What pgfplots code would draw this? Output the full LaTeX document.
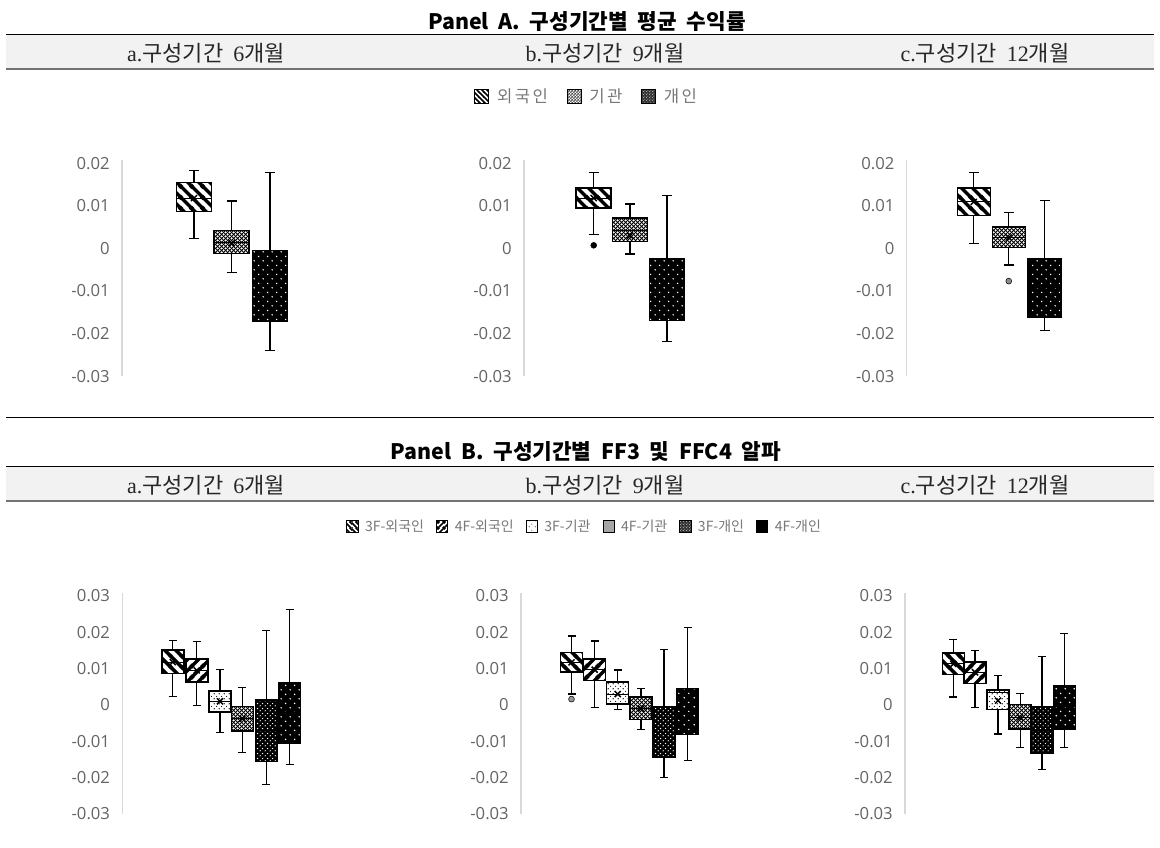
\documentclass[border=0pt]{standalone}
\usepackage{fontspec}
\usepackage{pgfplots}
\pgfplotsset{compat=1.18}
\usetikzlibrary{patterns}
\setmainfont{Noto Sans CJK KR}
\newfontfamily\tickfont{Open Sans}
\newfontfamily\lserif{Liberation Serif}
\definecolor{bandgray}{RGB}{242,242,242}
\definecolor{tickgray}{RGB}{100,100,100}
\definecolor{leggray}{RGB}{120,120,120}
\definecolor{axgray}{RGB}{217,217,217}

% ---- fixed-size patterns ----
\pgfdeclarepatternformonly{stripesdown}{\pgfqpoint{0pt}{0pt}}{\pgfqpoint{8pt}{8pt}}{\pgfqpoint{8pt}{8pt}}{%
  \pgfsetlinewidth{2.6pt}%
  \pgfpathmoveto{\pgfqpoint{-1pt}{9pt}}\pgfpathlineto{\pgfqpoint{9pt}{-1pt}}%
  \pgfpathmoveto{\pgfqpoint{-1pt}{1pt}}\pgfpathlineto{\pgfqpoint{1pt}{-1pt}}%
  \pgfpathmoveto{\pgfqpoint{7pt}{9pt}}\pgfpathlineto{\pgfqpoint{9pt}{7pt}}%
  \pgfusepath{stroke}}
\pgfdeclarepatternformonly{stripesup}{\pgfqpoint{0pt}{0pt}}{\pgfqpoint{8pt}{8pt}}{\pgfqpoint{8pt}{8pt}}{%
  \pgfsetlinewidth{2.6pt}%
  \pgfpathmoveto{\pgfqpoint{-1pt}{-1pt}}\pgfpathlineto{\pgfqpoint{9pt}{9pt}}%
  \pgfpathmoveto{\pgfqpoint{-1pt}{7pt}}\pgfpathlineto{\pgfqpoint{1pt}{9pt}}%
  \pgfpathmoveto{\pgfqpoint{7pt}{-1pt}}\pgfpathlineto{\pgfqpoint{9pt}{1pt}}%
  \pgfusepath{stroke}}
\pgfdeclarepatternformonly{stripesdownS}{\pgfqpoint{0pt}{0pt}}{\pgfqpoint{4pt}{4pt}}{\pgfqpoint{4pt}{4pt}}{%
  \pgfsetlinewidth{1.3pt}%
  \pgfpathmoveto{\pgfqpoint{-1pt}{5pt}}\pgfpathlineto{\pgfqpoint{5pt}{-1pt}}%
  \pgfpathmoveto{\pgfqpoint{-1pt}{1pt}}\pgfpathlineto{\pgfqpoint{1pt}{-1pt}}%
  \pgfpathmoveto{\pgfqpoint{3pt}{5pt}}\pgfpathlineto{\pgfqpoint{5pt}{3pt}}%
  \pgfusepath{stroke}}
\pgfdeclarepatternformonly{stripesupS}{\pgfqpoint{0pt}{0pt}}{\pgfqpoint{4pt}{4pt}}{\pgfqpoint{4pt}{4pt}}{%
  \pgfsetlinewidth{1.3pt}%
  \pgfpathmoveto{\pgfqpoint{-1pt}{-1pt}}\pgfpathlineto{\pgfqpoint{5pt}{5pt}}%
  \pgfpathmoveto{\pgfqpoint{-1pt}{3pt}}\pgfpathlineto{\pgfqpoint{1pt}{5pt}}%
  \pgfpathmoveto{\pgfqpoint{3pt}{-1pt}}\pgfpathlineto{\pgfqpoint{5pt}{1pt}}%
  \pgfusepath{stroke}}
\pgfdeclarepatternformonly{diamondhatch}{\pgfqpoint{0pt}{0pt}}{\pgfqpoint{3pt}{3pt}}{\pgfqpoint{3pt}{3pt}}{%
  \pgfsetlinewidth{0.8pt}%
  \pgfpathmoveto{\pgfqpoint{-0.5pt}{-0.5pt}}\pgfpathlineto{\pgfqpoint{3.5pt}{3.5pt}}%
  \pgfpathmoveto{\pgfqpoint{-0.5pt}{3.5pt}}\pgfpathlineto{\pgfqpoint{3.5pt}{-0.5pt}}%
  \pgfusepath{stroke}}
\pgfdeclarepatternformonly{diamondhatchS}{\pgfqpoint{0pt}{0pt}}{\pgfqpoint{2pt}{2pt}}{\pgfqpoint{2pt}{2pt}}{%
  \pgfsetlinewidth{0.5pt}%
  \pgfpathmoveto{\pgfqpoint{-0.5pt}{-0.5pt}}\pgfpathlineto{\pgfqpoint{2.5pt}{2.5pt}}%
  \pgfpathmoveto{\pgfqpoint{-0.5pt}{2.5pt}}\pgfpathlineto{\pgfqpoint{2.5pt}{-0.5pt}}%
  \pgfusepath{stroke}}
\pgfdeclarepatternformonly{dotslight}{\pgfqpoint{0pt}{0pt}}{\pgfqpoint{4pt}{4pt}}{\pgfqpoint{4pt}{4pt}}{%
  \pgfpathcircle{\pgfqpoint{1pt}{1pt}}{0.6pt}%
  \pgfpathcircle{\pgfqpoint{3pt}{3pt}}{0.45pt}%
  \pgfusepath{fill}}
\pgfdeclarepatternformonly{dotssparse}{\pgfqpoint{0pt}{0pt}}{\pgfqpoint{7pt}{7pt}}{\pgfqpoint{7pt}{7pt}}{%
  \pgfpathcircle{\pgfqpoint{1.75pt}{1.75pt}}{0.65pt}%
  \pgfpathcircle{\pgfqpoint{5.25pt}{5.25pt}}{0.65pt}%
  \pgfusepath{fill}}
\pgfdeclarepatternformonly{dotsdense}{\pgfqpoint{0pt}{0pt}}{\pgfqpoint{3.6pt}{3.6pt}}{\pgfqpoint{3.6pt}{3.6pt}}{%
  \pgfpathcircle{\pgfqpoint{0.9pt}{0.9pt}}{0.5pt}%
  \pgfpathcircle{\pgfqpoint{2.7pt}{2.7pt}}{0.5pt}%
  \pgfusepath{fill}}
\pgfdeclarepatternformonly{dotsdenseS}{\pgfqpoint{0pt}{0pt}}{\pgfqpoint{2pt}{2pt}}{\pgfqpoint{2pt}{2pt}}{%
  \pgfpathcircle{\pgfqpoint{0.5pt}{0.5pt}}{0.35pt}%
  \pgfpathcircle{\pgfqpoint{1.5pt}{1.5pt}}{0.35pt}%
  \pgfusepath{fill}}

\tikzset{
  fA1/.style={fill=white, postaction={pattern=stripesdown, pattern color=black}},
  fUp/.style={fill=white, postaction={pattern=stripesup, pattern color=black}},
  fHatch/.style={fill=white, postaction={pattern=diamondhatch, pattern color=black}},
  fLight/.style={fill=white, postaction={pattern=dotslight, pattern color=black}},
  fDotsSparse/.style={fill=black, postaction={pattern=dotssparse, pattern color=white}},
  fDotsDense/.style={fill=black, postaction={pattern=dotsdense, pattern color=white}},
  lA1/.style={fill=white, postaction={pattern=stripesdownS, pattern color=black}},
  lUp/.style={fill=white, postaction={pattern=stripesupS, pattern color=black}},
  lHatch/.style={fill=white, postaction={pattern=diamondhatchS, pattern color=black!70}},
  lLight/.style={fill=white, postaction={pattern=dotslight, pattern color=black!50}},
  lGray/.style={fill=black!35},
  lDotsDense/.style={fill=black!80, postaction={pattern=dotsdenseS, pattern color=white}},
  lBlack/.style={fill=black},
}

\pgfplotsset{
  whisk/.style={draw=black, line width=0.9pt, solid, mark=none},
  boxst/.style={draw=black, line width=1.1pt, solid, mark=none},
  meanx/.style={only marks, mark=x, mark size=3.2pt, mark options={draw=black, line width=1.1pt}},
  outl/.style={only marks, mark=*, mark size=2.2pt, mark options={draw=black, line width=0.5pt}},
  chartbase/.style={scale only axis, anchor=south west, clip=false,
    xmin=0, xmax=22, width=165pt, scaled y ticks=false,
    axis x line=none, axis y line*=left,
    y axis line style={draw=axgray, line width=0.9pt},
    major tick length=0pt,
    yticklabel style={font=\tickfont\fontsize{12.5}{14}\selectfont, text=tickgray, anchor=east, inner sep=0pt, xshift=-9pt}},
  chartA/.style={chartbase, height=162pt, ymin=-0.03, ymax=0.0207,
    ytick={-0.03,-0.02,-0.01,0,0.01,0.02},
    yticklabels={-0.03,-0.02,-0.01,0,0.01,0.02}},
  chartB/.style={chartbase, height=165.7pt, ymin=-0.03, ymax=0.03085,
    ytick={-0.03,-0.02,-0.01,0,0.01,0.02,0.03},
    yticklabels={-0.03,-0.02,-0.01,0,0.01,0.02,0.03}},
  legbase/.style={hide axis, scale only axis, width=20pt, height=10pt,
    xmin=0, xmax=1, ymin=0, ymax=1, anchor=center, legend columns=-1,
    legend style={draw=none, fill=none, at={(0.5,0.5)}, anchor=center, inner sep=0pt}},
}

% box: #1 fill style, #2 position, #3 half box width, #4 half cap width,
%      #5 lower whisker, #6 lower quartile, #7 median, #8 upper quartile, #9 upper whisker
\newcommand{\bx}[9]{%
  \pgfmathsetmacro\xa{#2-#3}\pgfmathsetmacro\xb{#2+#3}%
  \pgfmathsetmacro\ca{#2-#4}\pgfmathsetmacro\cb{#2+#4}%
  \addplot[whisk] coordinates {(#2,#5) (#2,#6)};
  \addplot[whisk] coordinates {(#2,#8) (#2,#9)};
  \addplot[whisk] coordinates {(\ca,#5) (\cb,#5)};
  \addplot[whisk] coordinates {(\ca,#9) (\cb,#9)};
  \addplot[boxst,#1] coordinates {(\xa,#6) (\xb,#6) (\xb,#8) (\xa,#8)} -- cycle;
  \addplot[whisk, line width=0.8pt] coordinates {(\xa,#7) (\xb,#7)};
}

\begin{document}
\begin{tikzpicture}
\useasboundingbox (0pt,0pt) rectangle (870pt,636pt);

% ---------------- Panel A header ----------------
\node[font=\bfseries\fontsize{16}{19}\selectfont] at (440.25pt,619.5pt) {Panel\ \ A.\ \ 구성기간별\ \ 평균\ \ 수익률};
\fill[bandgray] (4.5pt,609.75pt) rectangle (865.5pt,584.25pt);
\draw[black, line width=0.75pt] (4.5pt,609.75pt) -- (865.5pt,609.75pt);
\draw[black!55, line width=1.5pt] (4.5pt,584.25pt) -- (865.5pt,584.25pt);
\node[font=\fontsize{16.5}{19}\selectfont, text=black!85] at (154.5pt,596.25pt) {{\lserif a.}구성기간\ \ {\lserif 6}개월};
\node[font=\fontsize{16.5}{19}\selectfont, text=black!85] at (453.75pt,596.25pt) {{\lserif b.}구성기간\ \ {\lserif 9}개월};
\node[font=\fontsize{16.5}{19}\selectfont, text=black!85] at (738.75pt,596.25pt) {{\lserif c.}구성기간\ \ {\lserif 12}개월};

% separator
\draw[black, line width=0.75pt] (4.5pt,322.5pt) -- (865.5pt,322.5pt);

% ---------------- Panel B header ----------------
\node[font=\bfseries\fontsize{16}{19}\selectfont] at (439.5pt,297pt) {Panel\ \ B.\ \ 구성기간별\ \ FF3\ \ 및\ \ FFC4\ \ 알파};
\fill[bandgray] (4.5pt,285.75pt) rectangle (865.5pt,260.25pt);
\draw[black, line width=0.75pt] (4.5pt,285.75pt) -- (865.5pt,285.75pt);
\draw[black!55, line width=1.5pt] (4.5pt,260.25pt) -- (865.5pt,260.25pt);
\node[font=\fontsize{16.5}{19}\selectfont, text=black!85] at (154.5pt,272.25pt) {{\lserif a.}구성기간\ \ {\lserif 6}개월};
\node[font=\fontsize{16.5}{19}\selectfont, text=black!85] at (453.75pt,272.25pt) {{\lserif b.}구성기간\ \ {\lserif 9}개월};
\node[font=\fontsize{16.5}{19}\selectfont, text=black!85] at (738.75pt,272.25pt) {{\lserif c.}구성기간\ \ {\lserif 12}개월};

% ---------------- Legends ----------------
\begin{axis}[legbase, at={(440.25pt,563.25pt)},
  legend image code/.code={\draw[#1,draw=black,line width=0.5pt] (0pt,-5pt) rectangle (10.5pt,5.5pt);},
  legend style={font=\fontsize{12.5}{14}\selectfont\addfontfeature{LetterSpace=15}, text=leggray,
    /tikz/every odd column/.append style={column sep=4pt},
    /tikz/every even column/.append style={column sep=12pt}}]
\addlegendimage{lA1}\addlegendentry{외국인}
\addlegendimage{lHatch}\addlegendentry{기관}
\addlegendimage{lDotsDense}\addlegendentry{개인}
\end{axis}

\begin{axis}[legbase, at={(438.75pt,241pt)},
  legend image code/.code={\draw[#1,draw=black,line width=0.5pt] (0pt,-4.5pt) rectangle (8.5pt,4.5pt);},
  legend style={font=\fontsize{10.5}{12}\selectfont, text=leggray,
    /tikz/every odd column/.append style={column sep=3pt},
    /tikz/every even column/.append style={column sep=7pt}}]
\addlegendimage{lA1}\addlegendentry{3F-외국인}
\addlegendimage{lUp}\addlegendentry{4F-외국인}
\addlegendimage{lLight}\addlegendentry{3F-기관}
\addlegendimage{lGray}\addlegendentry{4F-기관}
\addlegendimage{lDotsDense}\addlegendentry{3F-개인}
\addlegendimage{lBlack}\addlegendentry{4F-개인}
\end{axis}

% ---------------- Panel A charts ----------------
% a. 6 months
\begin{axis}[chartA, at={(91.5pt,353.9pt)}]
\bx{fA1}{7.2}{1.75}{0.5}{0.00225}{0.0086}{0.0118}{0.0154}{0.0182}
\bx{fHatch}{10.97}{1.75}{0.5}{-0.00573}{-0.00127}{0.0013}{0.00413}{0.0111}
\bx{fDotsSparse}{14.8}{1.75}{0.5}{-0.0239}{-0.0172}{-0.009}{-0.00056}{0.0178}
\addplot[meanx] coordinates {(7.2,0.0118) (10.97,0.0012)};
\end{axis}

% b. 9 months
\begin{axis}[chartA, at={(393pt,353.9pt)}]
\bx{fA1}{6.97}{1.75}{0.5}{0.0032}{0.00946}{0.0118}{0.0142}{0.0178}
\bx{fHatch}{10.6}{1.75}{0.5}{-0.00134}{0.00155}{0.0042}{0.0071}{0.0104}
\bx{fDotsSparse}{14.3}{1.75}{0.5}{-0.0218}{-0.0169}{-0.0096}{-0.00235}{0.0124}
\addplot[meanx] coordinates {(6.97,0.0118) (10.6,0.003)};
\addplot[outl, mark options={fill=black}] coordinates {(6.97,0.0007)};
\end{axis}

% c. 12 months
\begin{axis}[chartA, at={(680pt,353.9pt)}]
\bx{fA1}{6.71}{1.65}{0.5}{0.00117}{0.00775}{0.0109}{0.0142}{0.0178}
\bx{fHatch}{10.21}{1.65}{0.5}{-0.0039}{0.00023}{0.0025}{0.005}{0.00836}
\bx{fDotsSparse}{13.8}{1.65}{0.5}{-0.0193}{-0.0161}{-0.0093}{-0.00235}{0.0113}
\addplot[meanx] coordinates {(6.71,0.0109) (10.21,0.0025)};
\addplot[outl, mark options={fill=black!45}] coordinates {(10.21,-0.0077)};
\end{axis}

% ---------------- Panel B charts ----------------
% a. 6 months
\begin{axis}[chartB, at={(91.7pt,25.6pt)}]
\bx{fA1}{5.05}{1.1}{0.4}{0.0023}{0.0087}{0.0118}{0.0151}{0.0177}
\bx{fUp}{7.45}{1.1}{0.4}{-0.0001}{0.0063}{0.0095}{0.0127}{0.0174}
\bx{fLight}{9.77}{1.1}{0.4}{-0.0076}{-0.0020}{0.001}{0.0039}{0.0098}
\bx{fHatch}{12.02}{1.1}{0.4}{-0.0130}{-0.0072}{-0.0038}{-0.0004}{0.0047}
\bx{fDotsDense}{14.4}{1.1}{0.4}{-0.0219}{-0.0156}{-0.007}{0.0014}{0.0206}
\bx{fDotsSparse}{16.74}{1.1}{0.4}{-0.0163}{-0.0105}{-0.002}{0.0061}{0.0262}
\addplot[meanx] coordinates {(5.05,0.0118) (7.45,0.0095) (9.77,0.001) (12.02,-0.0038)};
\end{axis}

% b. 9 months
\begin{axis}[chartB, at={(390.75pt,25.6pt)}]
\bx{fA1}{5.05}{1.1}{0.4}{0.0030}{0.0091}{0.0117}{0.0144}{0.0190}
\bx{fUp}{7.37}{1.1}{0.4}{-0.0006}{0.0068}{0.0097}{0.0126}{0.0176}
\bx{fLight}{9.67}{1.1}{0.4}{-0.0012}{0.0002}{0.003}{0.0063}{0.0096}
\bx{fHatch}{12.0}{1.1}{0.4}{-0.0068}{-0.0040}{-0.001}{0.0022}{0.0045}
\bx{fDotsDense}{14.3}{1.1}{0.4}{-0.0199}{-0.0144}{-0.0075}{-0.0006}{0.0152}
\bx{fDotsSparse}{16.67}{1.1}{0.4}{-0.0152}{-0.0082}{-0.002}{0.0046}{0.0214}
\addplot[meanx] coordinates {(5.05,0.0117) (7.37,0.0097) (9.67,0.003) (12.0,-0.001)};
\addplot[outl, mark options={fill=black!40}] coordinates {(5.05,0.0016)};
\end{axis}

% c. 12 months
\begin{axis}[chartB, at={(678.75pt,25.6pt)}]
\bx{fA1}{4.83}{1.1}{0.4}{0.0022}{0.0084}{0.0113}{0.0143}{0.0181}
\bx{fUp}{7.0}{1.1}{0.4}{-0.0007}{0.0059}{0.009}{0.0118}{0.0149}
\bx{fLight}{9.3}{1.1}{0.4}{-0.0080}{-0.0013}{0.0034}{0.0041}{0.0080}
\bx{fHatch}{11.52}{1.1}{0.4}{-0.0118}{-0.0066}{-0.0035}{0.0001}{0.0032}
\bx{fDotsDense}{13.7}{1.1}{0.4}{-0.0177}{-0.0134}{-0.007}{-0.0006}{0.0133}
\bx{fDotsSparse}{15.93}{1.1}{0.4}{-0.0118}{-0.0066}{-0.0005}{0.0052}{0.0196}
\addplot[meanx] coordinates {(4.83,0.0113) (7.0,0.009) (9.3,0.0012) (11.52,-0.0035)};
\end{axis}

\end{tikzpicture}
\end{document}
